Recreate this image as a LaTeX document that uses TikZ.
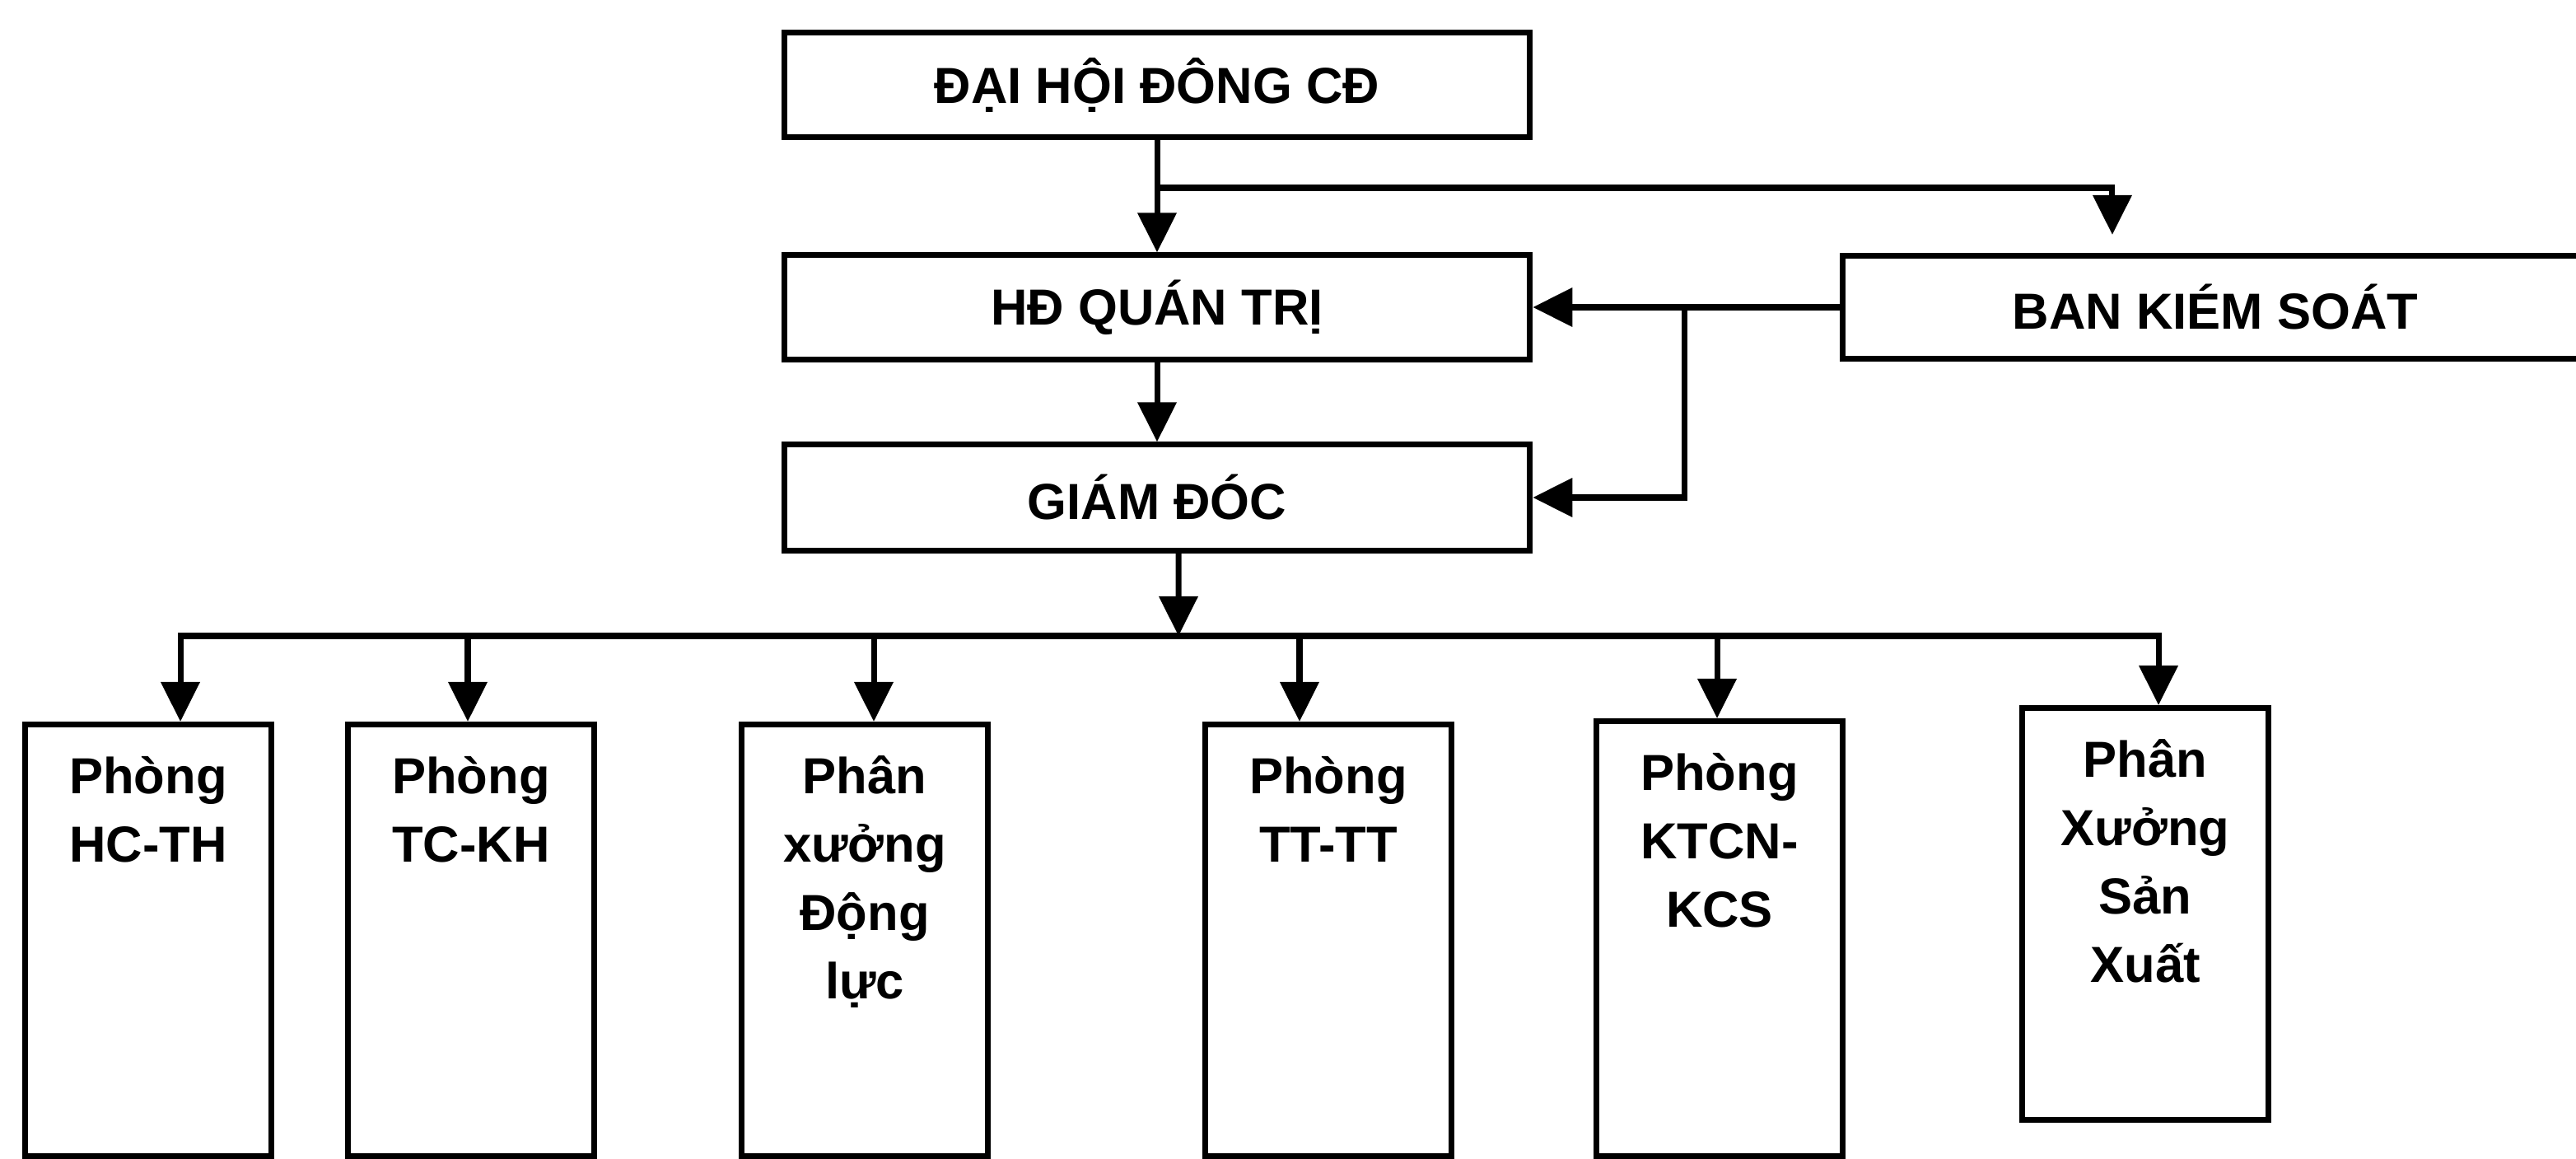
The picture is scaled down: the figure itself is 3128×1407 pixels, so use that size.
\documentclass[tikz,border=0pt]{standalone}
\usepackage{fontspec}
\setmainfont{Liberation Sans}
\usetikzlibrary{arrows.meta}
\newcommand{\unittext}[2][5.24cm]{%
  \parbox[c][#1][t]{2.98cm}{\centering\rule{0pt}{0.84cm}#2}}
\tikzset{
  orgbox/.style={rectangle, draw=black, line width=2pt,
    minimum width=9.05cm, minimum height=1.27cm, inner sep=0pt,
    font=\fontsize{17.5pt}{21pt}\selectfont\bfseries},
  unitbox/.style={rectangle, draw=black, line width=2pt, anchor=north,
    inner sep=0pt, font=\fontsize{17.5pt}{23.6pt}\selectfont\bfseries},
  arr/.style={-{Triangle[length=0.48cm, width=0.46cm]}, line width=2pt},
}

\begin{document}
\begin{tikzpicture}[x=0.01cm, y=-0.01cm]

  \fill[white] (0,0) rectangle (3128,1407);
  \useasboundingbox (0,0) rectangle (3128,1407);

  % ---- Top levels ----
  \node[orgbox] (dhcd) at (1405,103) {ĐẠI HỘI ĐÔNG CĐ};
  \node[orgbox, minimum height=1.26cm] (hdqt) at (1405,373) {HĐ QUÁN TRỊ};
  \node[orgbox, minimum height=1.28cm] (gd) at (1405,604) {GIÁM ĐÓC};
  \node[orgbox, minimum height=1.25cm] (bks) at (2690,373) {BAN KIÉM SOÁT};

  % ---- Units ----
  \node[unitbox] (p1) at (180,876)  {\unittext{Phòng\\HC-TH}};
  \node[unitbox] (p2) at (572,876)  {\unittext{Phòng\\TC-KH}};
  \node[unitbox] (p3) at (1050,876) {\unittext{Phân\\xưởng\\Động\\lực}};
  \node[unitbox] (p4) at (1613,876) {\unittext{Phòng\\TT-TT}};
  \node[unitbox] (p5) at (2088,872) {\unittext[5.28cm]{Phòng\\KTCN-\\KCS}};
  \node[unitbox] (p6) at (2605,856) {\unittext[5.0cm]{Phân\\Xưởng\\Sản\\Xuất}};

  % ---- Junctions ----
  \coordinate (brk)  at (1405,228);
  \coordinate (jn)   at (2045,373);
  \coordinate (busM) at (1431,772);

  % ---- Arrows ----
  \draw[arr] (dhcd) -- (hdqt);
  \draw[arr, shorten >=0.22cm] (brk) -| ([xshift=-1.25cm]bks.north);
  \draw[arr] (hdqt) -- (gd);
  \draw[arr] (bks.west) -- (hdqt.east);
  \draw[arr] (jn) |- (gd.east);
  \draw[arr] ([xshift=0.26cm]gd.south) -- (busM);
  \draw[arr] (busM) -| ([xshift=0.39cm]p1.north);
  \draw[arr] (busM) -| ([xshift=0.16cm]p6.north);
  \draw[arr] ([xshift=-0.04cm]p2.north |- busM) -- ([xshift=-0.04cm]p2.north);
  \draw[arr] ([xshift=0.11cm]p3.north |- busM) -- ([xshift=0.11cm]p3.north);
  \draw[arr] ([xshift=-0.35cm]p4.north |- busM) -- ([xshift=-0.35cm]p4.north);
  \draw[arr] ([xshift=-0.03cm]p5.north |- busM) -- ([xshift=-0.03cm]p5.north);
\end{tikzpicture}
\end{document}
